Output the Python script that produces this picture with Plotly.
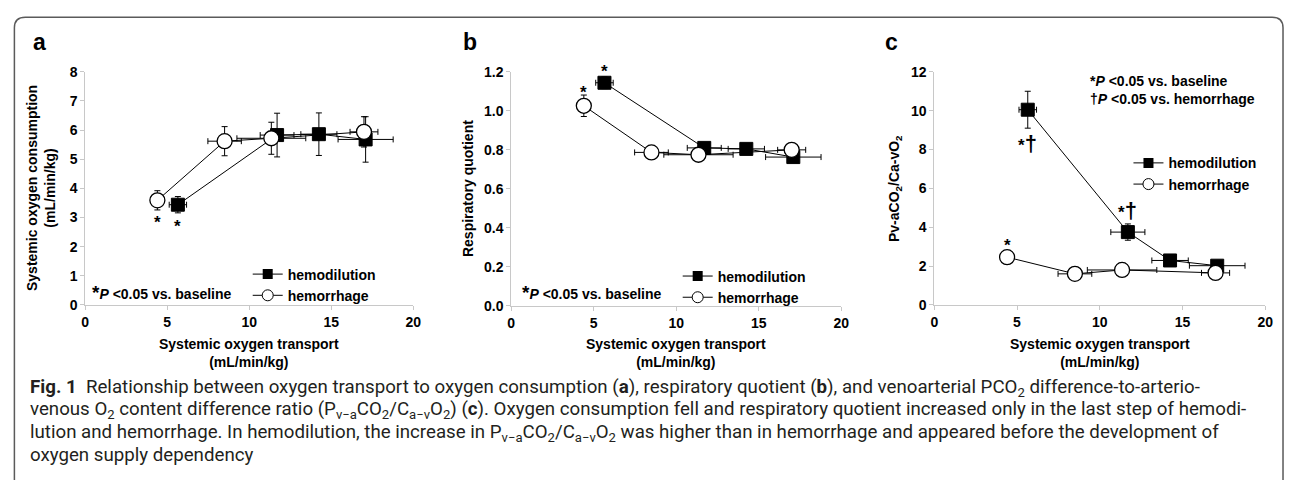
import plotly.graph_objects as go

W, H = 1293, 488
FONT = "Liberation Sans, Arial, sans-serif"
CAP_FONT = "Roboto, sans-serif"


def px(x):
    return x / W


def py(y):
    return 1 - y / H


# ---------------- data ----------------
# systemic oxygen transport (x) for each step
hd_do2 = [5.65, 11.7, 14.25, 17.1]
hd_do2_err = [0.53, 1.03, 1.1, 1.68]
hr_do2 = [4.4, 8.5, 11.35, 17.0]
hr_do2_err = [0.2, 1.02, 2.1, 0.85]

# panel a: systemic oxygen consumption
hd_vo2 = [3.44, 5.83, 5.86, 5.68]
hd_vo2_err = [0.28, 0.75, 0.73, 0.78]
hr_vo2 = [3.59, 5.62, 5.72, 5.94]
hr_vo2_err = [0.33, 0.5, 0.55, 0.52]

# panel b: respiratory quotient
hd_rq = [1.144, 0.81, 0.805, 0.763]
hd_rq_err = [0.03, 0.02, 0.02, 0.02]
hr_rq = [1.026, 0.787, 0.775, 0.80]
hr_rq_err = [0.055, 0.015, 0.015, 0.015]

# panel c: Pv-aCO2/Ca-vO2
hd_ratio = [10.05, 3.75, 2.29, 2.02]
hd_ratio_err = [0.95, 0.42, 0.2, 0.15]
hr_ratio = [2.46, 1.6, 1.8, 1.65]
hr_ratio_err = [0.15, 0.1, 0.1, 0.1]

series_names = ["hemodilution", "hemorrhage"]
x_ticks = [0, 5, 10, 15, 20]
x_title = "Systemic oxygen transport<br>(mL/min/kg)"
panel_labels = ["a", "b", "c"]

# ---------------- figure ----------------
fig = go.Figure()

panels = [
    ("x", "y", hd_vo2, hd_vo2_err, hr_vo2, hr_vo2_err),
    ("x2", "y2", hd_rq, hd_rq_err, hr_rq, hr_rq_err),
    ("x3", "y3", hd_ratio, hd_ratio_err, hr_ratio, hr_ratio_err),
]

for i, (xa, ya, hdy, hdye, hry, hrye) in enumerate(panels):
    fig.add_trace(go.Scatter(
        x=hd_do2, y=hdy, xaxis=xa, yaxis=ya, mode="lines+markers",
        line=dict(color="black", width=1),
        marker=dict(symbol="square", size=13, color="black", line=dict(color="black", width=1)),
        error_x=dict(type="data", array=hd_do2_err, color="black", thickness=1, width=3),
        error_y=dict(type="data", array=hdye, color="black", thickness=1, width=3),
        showlegend=False, name=series_names[0]))
    fig.add_trace(go.Scatter(
        x=hr_do2, y=hry, xaxis=xa, yaxis=ya, mode="lines+markers",
        line=dict(color="black", width=1),
        marker=dict(symbol="circle", size=15, color="white", line=dict(color="black", width=1.3)),
        error_x=dict(type="data", array=hr_do2_err, color="black", thickness=1, width=3),
        error_y=dict(type="data", array=hrye, color="black", thickness=1, width=3),
        showlegend=False, name=series_names[1]))
    leg = "legend" if i == 0 else "legend%d" % (i + 1)
    # legend-only entries
    fig.add_trace(go.Scatter(
        x=[None], y=[None], xaxis=xa, yaxis=ya, mode="lines+markers", name=series_names[0],
        line=dict(color="black", width=1),
        marker=dict(symbol="square", size=10, color="black"), legend=leg))
    fig.add_trace(go.Scatter(
        x=[None], y=[None], xaxis=xa, yaxis=ya, mode="lines+markers", name=series_names[1],
        line=dict(color="black", width=1),
        marker=dict(symbol="circle", size=11, color="white", line=dict(color="black", width=1)),
        legend=leg))

axis_common = dict(
    showgrid=False, zeroline=False, showline=True, linecolor="#c8c8c8", linewidth=1,
    ticks="outside", ticklen=4, tickcolor="#c8c8c8", tickwidth=1,
    tickfont=dict(family=FONT, size=14, color="black", weight="bold"),
)

xdoms = [(82, 413), (512, 845), (939, 1273)]
ydoms = [(307, 66), (308, 66), (307, 66)]
yranges = [[0, 8], [0, 1.2], [0, 12]]
ydticks = [1, 0.2, 2]
yfmts = ["d", ".1f", "d"]

layout = dict(
    width=W, height=H, margin=dict(l=0, r=0, t=0, b=0),
    paper_bgcolor="white", plot_bgcolor="white",
    font=dict(family=FONT, color="black"),
)
for i in range(3):
    sfx = "" if i == 0 else str(i + 1)
    layout["xaxis" + sfx] = dict(
        axis_common, domain=[px(xdoms[i][0]), px(xdoms[i][1])], range=[0, 20],
        tickvals=x_ticks, anchor="y" + sfx)
    layout["yaxis" + sfx] = dict(
        axis_common, domain=[py(ydoms[i][0]), py(ydoms[i][1])], range=yranges[i],
        dtick=ydticks[i], tick0=0, tickformat=yfmts[i], anchor="x" + sfx)

leg_font = dict(family=FONT, size=14, color="black", weight="bold")
leg_pos = [(246, 259), (680, 261), (1135, 144)]
for i in range(3):
    key = "legend" if i == 0 else "legend%d" % (i + 1)
    layout[key] = dict(
        x=px(leg_pos[i][0]), y=py(leg_pos[i][1]), xanchor="left", yanchor="top",
        font=leg_font, bgcolor="rgba(0,0,0,0)", itemwidth=30, tracegroupgap=0,
        borderwidth=0)

fig.update_layout(**layout)

ann = []
bold14 = dict(family=FONT, size=14, color="black", weight="bold")

# panel letters
for lab, xpos in zip(panel_labels, [27, 461, 887]):
    ann.append(dict(text=lab, x=px(xpos), y=py(35), xref="paper", yref="paper",
                    xanchor="left", yanchor="middle", showarrow=False,
                    font=dict(family=FONT, size=23, color="black", weight="bold")))

# x titles
for (x0, x1) in xdoms:
    ann.append(dict(text=x_title, x=px((x0 + x1) / 2), y=py(357), xref="paper", yref="paper",
                    xanchor="center", yanchor="middle", showarrow=False, font=bold14))

# y titles
ytitles = [("Systemic oxygen consumption<br>(mL/min/kg)", 38),
           ("Respiratory quotient", 469),
           ("Pv-aCO<sub>2</sub>/Ca-vO<sub>2</sub>", 900)]
for t, xpos in ytitles:
    ann.append(dict(text=t, x=px(xpos), y=py(186.5), xref="paper", yref="paper",
                    xanchor="center", yanchor="middle", showarrow=False, textangle=-90,
                    font=bold14))

# significance notes
note = "<span style='font-size:19px'>*</span><i>P</i> &lt;0.05 vs. baseline"
ann.append(dict(text=note, x=px(87), y=py(294), xref="paper", yref="paper",
                xanchor="left", yanchor="middle", showarrow=False, font=bold14))
ann.append(dict(text=note, x=px(521), y=py(294), xref="paper", yref="paper",
                xanchor="left", yanchor="middle", showarrow=False, font=bold14))
ann.append(dict(text="*<i>P</i> &lt;0.05 vs. baseline<br>†<i>P</i> &lt;0.05 vs. hemorrhage",
                x=px(1094), y=py(85), xref="paper", yref="paper", align="left",
                xanchor="left", yanchor="middle", showarrow=False, font=bold14))

# point markers (*, *†)
star_font = dict(family=FONT, size=17, color="black", weight="bold")
stars = [
    ("x", "y", hr_do2[0], hr_vo2[0], "*", -22),
    ("x", "y", hd_do2[0], hd_vo2[0], "*", -22),
    ("x2", "y2", hr_do2[0], hr_rq[0], "*", 13),
    ("x2", "y2", hd_do2[0], hd_rq[0], "*", 11),
    ("x3", "y3", hd_do2[0], hd_ratio[0], "*<span style='font-size:22px'>†</span>", -34),
    ("x3", "y3", hd_do2[1], hd_ratio[1], "*<span style='font-size:22px'>†</span>", 22),
    ("x3", "y3", hr_do2[0], hr_ratio[0], "*", 12),
]
for xa, ya, xv, yv, t, ys in stars:
    ann.append(dict(text=t, x=xv, y=yv, xref=xa, yref=ya, showarrow=False,
                    xanchor="center", yanchor="middle", yshift=ys, font=star_font))

# caption
cap_lines = [
    "<b>Fig. 1</b>&nbsp;&nbsp;Relationship between oxygen transport to oxygen consumption (<b>a</b>), "
    "respiratory quotient (<b>b</b>), and venoarterial PCO<sub>2</sub> difference-to-arterio-",
    "venous O<sub>2</sub> content difference ratio (P<sub>v\u2212a</sub>CO<sub>2</sub>/C<sub>a\u2212v</sub>O<sub>2</sub>) "
    "(<b>c</b>). Oxygen consumption fell and respiratory quotient increased only in the last step of hemodi-",
    "lution and hemorrhage. In hemodilution, the increase in P<sub>v\u2212a</sub>CO<sub>2</sub>/C<sub>a\u2212v</sub>O<sub>2</sub> "
    "was higher than in hemorrhage and appeared before the development of",
    "oxygen supply dependency",
]
cap_y = [393, 416, 439, 462]
for t, yy in zip(cap_lines, cap_y):
    ann.append(dict(text=t, x=px(24), y=py(yy), xref="paper", yref="paper",
                    xanchor="left", yanchor="middle", showarrow=False,
                    font=dict(family=CAP_FONT, size=18.7, color="#231f20")))

fig.update_layout(annotations=ann)

# outer rounded frame
def P(x, y):
    return "%.5f,%.5f" % (px(x), py(y))

r = 11
path = ("M " + P(10.5, 488) + " L " + P(10.5, 9.5 + r) + " Q " + P(10.5, 9.5) + " " + P(10.5 + r, 9.5)
        + " L " + P(1291 - r, 9.5) + " Q " + P(1291, 9.5) + " " + P(1291, 9.5 + r)
        + " L " + P(1291, 488))
fig.add_shape(type="path", path=path, xref="paper", yref="paper",
              line=dict(color="#5a5a5a", width=1.5))

fig.write_html("out.html", config={"displayModeBar": False},
               post_script="document.body.style.margin='0px';document.body.style.overflow='hidden';")
